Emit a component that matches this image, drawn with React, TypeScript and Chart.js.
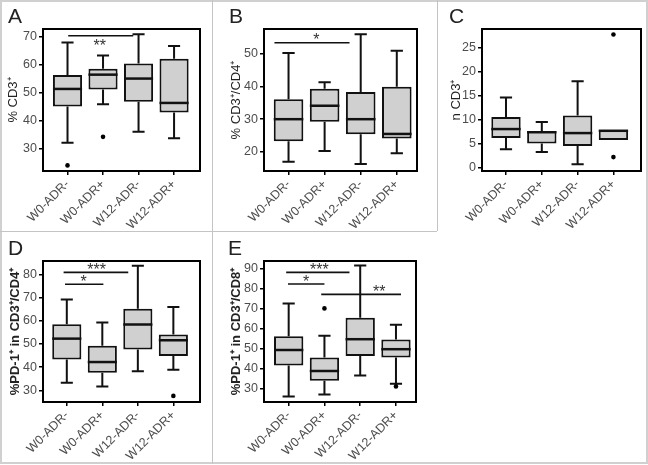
import React, { useEffect, useRef } from "react";
import { Chart, registerables } from "chart.js";

Chart.register(...registerables);

const categories = ["W0-ADR-", "W0-ADR+", "W12-ADR-", "W12-ADR+"];

// Panel A: % CD3+
const aMin = [32.0, 45.7, 35.9, 33.6];
const aQ1 = [44.9, 51.0, 46.6, 42.8];
const aMed = [51.2, 56.3, 54.9, 46.2];
const aQ3 = [56.2, 58.4, 60.3, 62.0];
const aMax = [67.8, 63.1, 70.7, 66.5];
const aOutliers = [[23.9], [34.1], [], []];
const aTicks = [30, 40, 50, 60, 70];
const aSig = [{ from: 0.02, to: 1.85, y: 70.2, label: "**", labelX: 0.91, labelY: 67.7 }];

// Panel B: % CD3+/CD4+
const bMin = [17.0, 20.3, 16.3, 19.6];
const bQ1 = [23.3, 29.2, 25.4, 24.1];
const bMed = [30.0, 34.1, 30.0, 25.5];
const bQ3 = [36.1, 39.3, 38.3, 39.9];
const bMax = [50.2, 41.3, 55.9, 50.9];
const bOutliers = [[], [], [], []];
const bTicks = [20, 30, 40, 50];
const bSig = [{ from: -0.39, to: 1.69, y: 53.3, label: "*", labelX: 0.77, labelY: 55.1 }];

// Panel C: n CD3+
const cMin = [3.82, 3.26, 0.69, 5.76];
const cQ1 = [6.18, 5.07, 4.51, 5.76];
const cMed = [8.06, 7.4, 7.22, 7.7];
const cQ3 = [10.56, 7.64, 10.9, 7.85];
const cMax = [14.65, 9.51, 18.05, 7.85];
const cOutliers = [[], [], [], [27.8, 2.2]];
const cTicks = [0, 5, 10, 15, 20, 25];
const cSig: { from: number; to: number; y: number; label: string; labelX: number; labelY: number }[] = [];

// Panel D: %PD-1+ in CD3+/CD4+
const dMin = [33.3, 31.7, 38.2, 38.9];
const dQ1 = [43.3, 37.6, 47.6, 44.8];
const dMed = [52.3, 42.2, 58.4, 51.6];
const dQ3 = [58.5, 49.2, 65.2, 54.1];
const dMax = [69.2, 59.3, 83.7, 66.0];
const dOutliers = [[], [], [], [27.6]];
const dTicks = [30, 40, 50, 60, 70, 80];
const dSig = [
  { from: -0.09, to: 1.73, y: 80.9, label: "***", labelX: 0.84, labelY: 83.3 },
  { from: -0.05, to: 1.03, y: 75.8, label: "*", labelX: 0.47, labelY: 78.3 },
];

// Panel E: %PD-1+ in CD3+/CD8+
const eMin = [26.3, 27.3, 36.8, 32.6];
const eQ1 = [41.7, 34.1, 46.5, 45.7];
const eMed = [49.5, 39.0, 54.9, 49.9];
const eQ3 = [56.4, 45.7, 65.6, 54.7];
const eMax = [72.8, 56.6, 91.7, 62.1];
const eOutliers = [[], [70.3], [], [31.3]];
const eTicks = [30, 40, 50, 60, 70, 80, 90];
const eSig = [
  { from: -0.07, to: 1.7, y: 88.3, label: "***", labelX: 0.86, labelY: 91.3 },
  { from: -0.02, to: 1.0, y: 82.5, label: "*", labelX: 0.49, labelY: 85.3 },
  { from: 0.91, to: 3.14, y: 77.3, label: "**", labelX: 2.53, labelY: 80.3 },
];

type Sig = { from: number; to: number; y: number; label: string; labelX: number; labelY: number };
type PanelDef = {
  letter: string;
  cell: [number, number, number, number]; // x, y, w, h
  area: [number, number, number, number]; // left, top, right, bottom (relative to cell)
  letterX: number;
  letterY: number;
  title: string;
  bold: boolean;
  titleCenter: number;
  yMin: number;
  yMax: number;
  xMin: number;
  xMax: number;
  min: number[];
  q1: number[];
  med: number[];
  q3: number[];
  max: number[];
  outliers: number[][];
  ticks: number[];
  sig: Sig[];
};

const FONT = "'Liberation Sans', Arial, Helvetica, sans-serif";

const panels: PanelDef[] = [
  {
    letter: "A", cell: [0, 0, 212, 231], area: [43, 29, 200, 171], letterX: 8, letterY: 23,
    title: "% CD3\u207A", bold: false, titleCenter: 13, yMin: 21.9, yMax: 72.6, xMin: -0.69, xMax: 3.73,
    min: aMin, q1: aQ1, med: aMed, q3: aQ3, max: aMax, outliers: aOutliers, ticks: aTicks, sig: aSig,
  },
  {
    letter: "B", cell: [212, 0, 225, 231], area: [52, 29, 205, 171], letterX: 17, letterY: 23,
    title: "% CD3\u207A/CD4\u207A", bold: false, titleCenter: 24, yMin: 14.2, yMax: 57.5, xMin: -0.68, xMax: 3.56,
    min: bMin, q1: bQ1, med: bMed, q3: bQ3, max: bMax, outliers: bOutliers, ticks: bTicks, sig: bSig,
  },
  {
    letter: "C", cell: [437, 0, 210, 231], area: [45, 29, 204, 171], letterX: 12, letterY: 23,
    title: "n CD3\u207A", bold: false, titleCenter: 19, yMin: -0.7, yMax: 28.96, xMin: -0.67, xMax: 3.77,
    min: cMin, q1: cQ1, med: cMed, q3: cQ3, max: cMax, outliers: cOutliers, ticks: cTicks, sig: cSig,
  },
  {
    letter: "D", cell: [0, 231, 212, 232], area: [43, 30, 200, 171], letterX: 8, letterY: 24,
    title: "%PD-1\u207A in CD3\u207A/CD4\u207A", bold: true, titleCenter: 15, yMin: 24.96, yMax: 85.8, xMin: -0.67, xMax: 3.75,
    min: dMin, q1: dQ1, med: dMed, q3: dQ3, max: dMax, outliers: dOutliers, ticks: dTicks, sig: dSig,
  },
  {
    letter: "E", cell: [212, 231, 225, 232], area: [52, 30, 204, 171], letterX: 16, letterY: 24,
    title: "%PD-1\u207A in CD3\u207A/CD8\u207A", bold: true, titleCenter: 24, yMin: 23.5, yMax: 94.0, xMin: -0.69, xMax: 3.56,
    min: eMin, q1: eQ1, med: eMed, q3: eQ3, max: eMax, outliers: eOutliers, ticks: eTicks, sig: eSig,
  },
];

function makeExtras(p: PanelDef) {
  return {
    id: "boxExtras" + p.letter,
    beforeDatasetsDraw(chart: any) {
      const { ctx } = chart;
      const xs = chart.scales.x;
      const ys = chart.scales.y;
      ctx.save();
      ctx.strokeStyle = "#111";
      ctx.lineWidth = 2;
      ctx.lineCap = "butt";
      for (let i = 0; i < categories.length; i++) {
        const x = xs.getPixelForValue(i);
        const half = xs.getPixelForValue(i + 0.17) - x;
        ctx.beginPath();
        if (p.max[i] > p.q3[i]) {
          ctx.moveTo(x, ys.getPixelForValue(p.q3[i]));
          ctx.lineTo(x, ys.getPixelForValue(p.max[i]));
          ctx.moveTo(x - half, ys.getPixelForValue(p.max[i]));
          ctx.lineTo(x + half, ys.getPixelForValue(p.max[i]));
        }
        if (p.min[i] < p.q1[i]) {
          ctx.moveTo(x, ys.getPixelForValue(p.q1[i]));
          ctx.lineTo(x, ys.getPixelForValue(p.min[i]));
          ctx.moveTo(x - half, ys.getPixelForValue(p.min[i]));
          ctx.lineTo(x + half, ys.getPixelForValue(p.min[i]));
        }
        ctx.stroke();
      }
      ctx.restore();
    },
    afterDatasetsDraw(chart: any) {
      const { ctx, chartArea } = chart;
      const xs = chart.scales.x;
      const ys = chart.scales.y;
      ctx.save();
      // medians
      ctx.strokeStyle = "#111";
      ctx.lineWidth = 2.5;
      for (let i = 0; i < categories.length; i++) {
        const xl = xs.getPixelForValue(i - 0.41);
        const xr = xs.getPixelForValue(i + 0.41);
        const y = ys.getPixelForValue(p.med[i]);
        ctx.beginPath();
        ctx.moveTo(xl, y);
        ctx.lineTo(xr, y);
        ctx.stroke();
      }
      // significance bars
      ctx.lineWidth = 1.6;
      ctx.fillStyle = "#333";
      ctx.font = `16px ${FONT}`;
      ctx.textAlign = "center";
      ctx.textBaseline = "middle";
      for (const s of p.sig) {
        const y = ys.getPixelForValue(s.y);
        ctx.beginPath();
        ctx.moveTo(xs.getPixelForValue(s.from), y);
        ctx.lineTo(xs.getPixelForValue(s.to), y);
        ctx.stroke();
        ctx.fillText(s.label, xs.getPixelForValue(s.labelX), ys.getPixelForValue(s.labelY) + 4);
      }
      // frame
      ctx.strokeStyle = "#000";
      ctx.lineWidth = 2;
      ctx.strokeRect(chartArea.left, chartArea.top, chartArea.right - chartArea.left, chartArea.bottom - chartArea.top);
      ctx.restore();
    },
    afterDraw(chart: any) {
      const { ctx } = chart;
      ctx.save();
      ctx.fillStyle = "#222";
      ctx.font = `21px ${FONT}`;
      ctx.textAlign = "left";
      ctx.textBaseline = "alphabetic";
      ctx.fillText(p.letter, p.letterX, p.letterY);
      ctx.restore();
    },
  };
}

function Panel({ p }: { p: PanelDef }) {
  const ref = useRef<HTMLCanvasElement | null>(null);
  useEffect(() => {
    if (!ref.current) return;
    const [, , w, h] = p.cell;
    const [L, T, R, B] = p.area;
    const titleFontSize = 13;
    const chart = new Chart(ref.current, {
      type: "bar",
      data: {
        datasets: [
          {
            type: "bar",
            data: categories.map((_, i) => ({ x: i, y: [p.q1[i], p.q3[i]] })) as any,
            backgroundColor: "#d0d0d0",
            borderColor: "#111",
            borderWidth: 2,
            borderSkipped: false,
            categoryPercentage: 1,
            barPercentage: 0.82,
          } as any,
          {
            type: "scatter",
            data: p.outliers.flatMap((arr, i) => arr.map((v) => ({ x: i, y: v }))),
            backgroundColor: "#000",
            borderColor: "#000",
            pointRadius: 2.3,
            borderWidth: 0,
          } as any,
        ],
      },
      options: {
        responsive: false,
        animation: false,
        devicePixelRatio: 1,
        events: [],
        layout: { padding: { left: 0, top: T, right: w - R, bottom: 0 } },
        plugins: { legend: { display: false }, tooltip: { enabled: false } },
        scales: {
          x: {
            type: "linear",
            min: p.xMin,
            max: p.xMax,
            offset: false,
            afterFit: (s: any) => {
              s.height = h - B;
            },
            afterBuildTicks: (s: any) => {
              s.ticks = categories.map((_, i) => ({ value: i }));
            },
            grid: { display: true, drawOnChartArea: false, drawTicks: true, tickLength: 4, color: "#000", lineWidth: 1.5, offset: false },
            border: { display: false },
            ticks: {
              autoSkip: false,
              minRotation: 45,
              maxRotation: 45,
              padding: 2,
              color: "#4d4d4d",
              font: { family: FONT, size: 12.5 },
              callback: (v: any) => categories[Math.round(Number(v))] ?? "",
            },
          },
          y: {
            type: "linear",
            min: p.yMin,
            max: p.yMax,
            afterFit: (s: any) => {
              s.width = L;
            },
            afterBuildTicks: (s: any) => {
              s.ticks = p.ticks.map((v) => ({ value: v }));
            },
            grid: { display: true, drawOnChartArea: false, drawTicks: true, tickLength: 4, color: "#000", lineWidth: 1.5 },
            border: { display: false },
            ticks: { padding: 2, color: "#4d4d4d", font: { family: FONT, size: 12.5 } },
            title: {
              display: true,
              text: p.title,
              color: "#222",
              font: { family: FONT, size: titleFontSize, weight: p.bold ? "bold" : "normal" },
              padding: { top: Math.max(0, p.titleCenter - titleFontSize * 0.6), bottom: 0 },
            },
          },
        },
      } as any,
      plugins: [makeExtras(p)],
    });
    return () => chart.destroy();
  }, [p]);
  const [x, y, w, h] = p.cell;
  return (
    <div style={{ position: "absolute", left: x, top: y, width: w, height: h }}>
      <canvas ref={ref} width={w} height={h} style={{ display: "block", width: w, height: h }} />
    </div>
  );
}

export default function App() {
  const line = "#c4c4c4";
  return (
    <div style={{ position: "absolute", left: 0, top: 0, width: 648, height: 465, background: "#fff", overflow: "hidden" }}>
      {panels.map((p) => (
        <Panel key={p.letter} p={p} />
      ))}
      <div style={{ position: "absolute", left: 0, top: 0, width: 648, height: 464, boxSizing: "border-box", border: "2px solid #d0d0d0" }} />
      <div style={{ position: "absolute", left: 212, top: 0, width: 1, height: 464, background: line }} />
      <div style={{ position: "absolute", left: 437, top: 0, width: 1, height: 231, background: line }} />
      <div style={{ position: "absolute", left: 0, top: 231, width: 437, height: 1, background: line }} />
    </div>
  );
}
